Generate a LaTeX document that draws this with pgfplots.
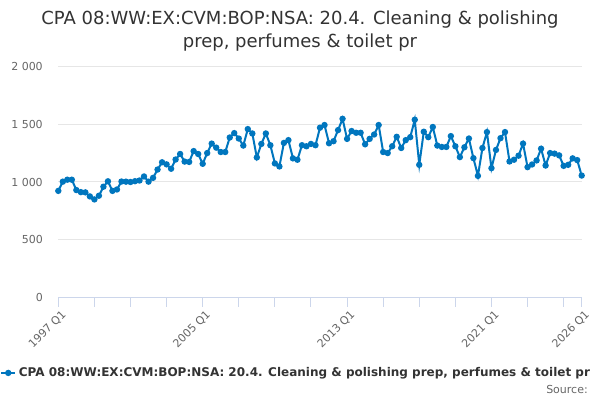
\documentclass[border=0pt]{standalone}
\usepackage{pgfplots}
\pgfplotsset{compat=1.18}
\usepackage{fontspec}
\setmainfont{DejaVu Sans}
\definecolor{linec}{RGB}{0,118,190}
\definecolor{gridc}{RGB}{230,230,230}
\definecolor{axisc}{RGB}{204,214,235}
\definecolor{labelc}{RGB}{102,102,102}
\definecolor{titlec}{RGB}{51,51,51}
\pgfplotstableread{
q v
0 923
1 1003
2 1020
3 1020
4 930
5 912
6 910
7 875
8 849
9 881
10 959
11 1006
12 923
13 935
14 1004
15 1003
16 1000
17 1007
18 1013
19 1048
20 1003
21 1036
22 1108
23 1171
24 1153
25 1115
26 1195
27 1243
28 1177
29 1174
30 1268
31 1243
32 1158
33 1251
34 1333
35 1298
36 1260
37 1260
38 1386
39 1424
40 1377
41 1316
42 1459
43 1421
44 1213
45 1330
46 1421
47 1319
48 1161
49 1135
50 1339
51 1363
52 1205
53 1193
54 1319
55 1310
56 1330
57 1319
58 1471
59 1494
60 1336
61 1354
62 1450
63 1548
64 1374
65 1442
66 1427
67 1427
68 1327
69 1374
70 1412
71 1494
72 1260
73 1251
74 1310
75 1392
76 1295
77 1363
78 1389
79 1540
80 1149
81 1436
82 1389
83 1477
84 1316
85 1304
86 1304
87 1398
88 1310
89 1216
90 1301
91 1377
92 1207
93 1053
94 1295
95 1433
96 1120
97 1278
98 1380
99 1433
100 1178
101 1193
102 1228
103 1333
104 1129
105 1152
106 1187
107 1289
108 1143
109 1251
110 1246
111 1231
112 1140
113 1149
114 1205
115 1190
116 1056
}\datatable
\begin{document}
\begin{tikzpicture}
\useasboundingbox (0pt,0pt) rectangle (450pt,300pt);
\fill[white] (0pt,0pt) rectangle (450pt,300pt);
\node[font=\fontsize{13.5}{16}\selectfont, text=titlec, inner sep=0pt] at (225pt,285.5pt) {CPA 08:WW:EX:CVM:BOP:NSA: 20.4. Cleaning \& polishing};
\node[font=\fontsize{13.5}{16}\selectfont, text=titlec, inner sep=0pt] at (225pt,268.25pt) {prep, perfumes \& toilet pr};
\node[font=\fontsize{8.25}{10}\selectfont, text=labelc, anchor=east, inner sep=0pt] at (441pt,8.25pt) {Source:};
\begin{axis}[
  at={(43.725pt,77.025pt)}, anchor=south west,
  scale only axis, width=392.55pt, height=172.95pt,
  xmin=0, xmax=116, ymin=0, ymax=2000,
  axis x line*=bottom, axis y line*=left,
  y axis line style={draw=none},
  x axis line style={draw=axisc, line width=0.75pt},
  ymajorgrids, grid style={gridc, line width=0.75pt},
  tick align=outside, major tick length=7pt,
  xtick={0,8,16,24,32,40,48,56,64,72,80,88,96,104,112,116},
  xticklabels={1997 Q1,,,,2005 Q1,,,,2013 Q1,,,,2021 Q1,,,2026 Q1},
  xtick style={draw=axisc, line width=0.75pt},
  ytick={0,500,1000,1500,2000},
  yticklabels={0,500,1 000,1 500,2 000},
  ytick style={draw=none},
  xticklabel style={font=\fontsize{8.25}{10}\selectfont, text=labelc, inner sep=0pt, xshift=4.5pt, yshift=-4.4pt, rotate=45, anchor=east},
  yticklabel style={font=\fontsize{8.25}{10}\selectfont, text=labelc, inner sep=0pt, anchor=east, xshift=-4.45pt},
  legend style={at={(-0.1114,-0.328)}, anchor=west, draw=none, fill=none, inner sep=0pt,
    font=\bfseries\fontsize{9}{11}\selectfont, text=titlec, nodes={inner xsep=2pt, inner ysep=0pt}},
  legend cell align=left,
  legend image code/.code={\draw[linec, line width=1.5pt] (0pt,0pt) -- (10.5pt,0pt); \fill[linec] (5.25pt,0pt) circle (1.6pt);},
]
\addplot[linec, line width=1.5pt, mark=*, mark size=1.6pt, mark options={linec}] table[x=q, y=v] {\datatable};
\addlegendentry{CPA 08:WW:EX:CVM:BOP:NSA: 20.4. Cleaning \& polishing prep, perfumes \& toilet pr}
\end{axis}
\end{tikzpicture}
\end{document}
